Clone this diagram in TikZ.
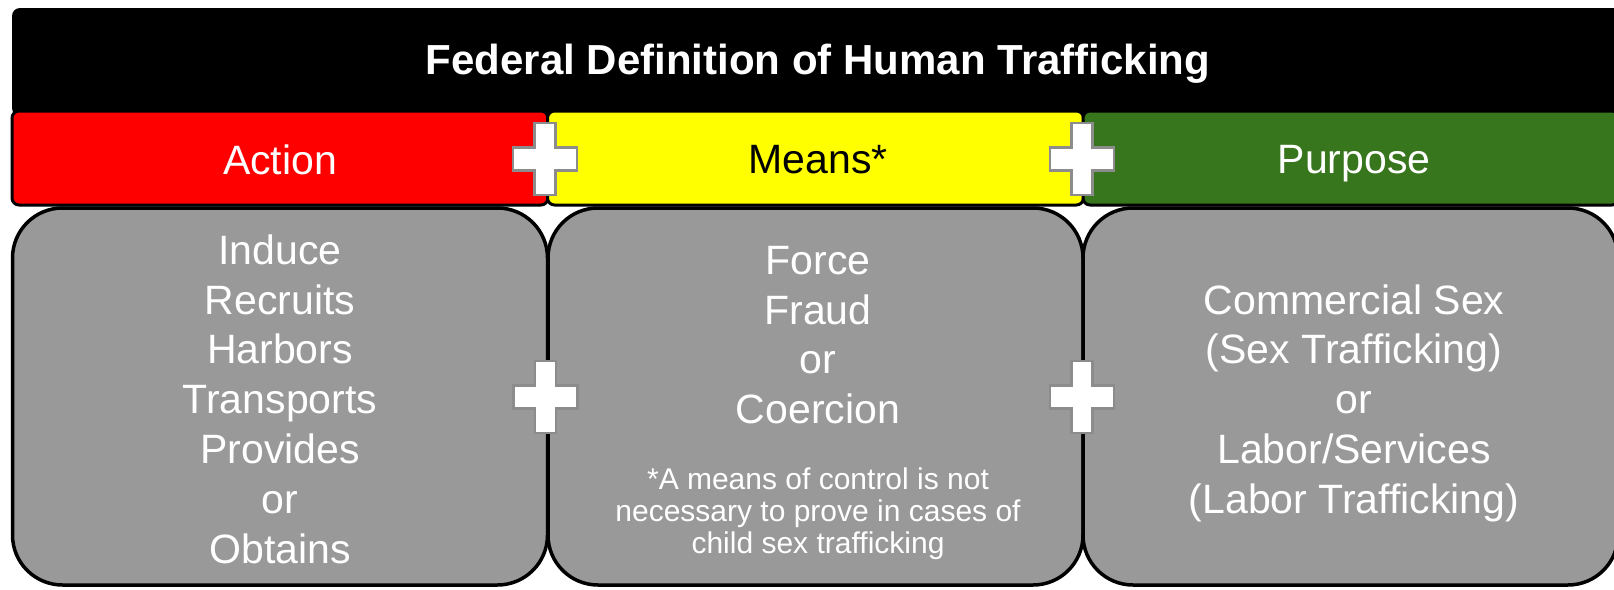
\documentclass[tikz,border=0pt]{standalone}
\usepackage{fontspec}
\setmainfont{Liberation Sans}
\definecolor{panelgray}{RGB}{153,153,153}
\definecolor{purposegreen}{RGB}{56,118,29}
\definecolor{crossedge}{RGB}{140,140,140}
\definecolor{headyellow}{RGB}{255,255,0}
\begin{document}
\begin{tikzpicture}[x=1pt,y=-1pt,
  titlebar/.style={fill=black, rounded corners=8pt, inner sep=0pt,
    minimum width=1613pt, minimum height=108pt},
  headbar/.style={draw=black, line width=3pt, rounded corners=7pt, inner sep=0pt,
    minimum width=536pt, minimum height=94pt},
  panel/.style={draw=black, line width=3.5pt, fill=panelgray, rounded corners=50pt,
    inner sep=0pt, minimum width=535pt, minimum height=377pt},
  headtext/.style={font=\fontsize{41}{48}\selectfont, inner sep=0pt},
  bodytext/.style={font=\fontsize{41}{49.8}\selectfont, text=white, align=center, inner sep=0pt},
  notetext/.style={font=\fontsize{30}{32}\selectfont, text=white, align=center, inner sep=0pt},
  crossmark/.pic={
    \draw[fill=white, draw=crossedge, line width=2.5pt]
      (-10.5,-36) -- (10.5,-36) -- (10.5,-11.5) -- (32,-11.5) -- (32,11.5)
      -- (10.5,11.5) -- (10.5,36) -- (-10.5,36) -- (-10.5,11.5) -- (-32,11.5)
      -- (-32,-11.5) -- (-10.5,-11.5) -- cycle;
  }]
\useasboundingbox (0,0) rectangle (1614,589);
\fill[white] (0,0) rectangle (1614,589);

% title band
\node[titlebar] (title) at (818.5,62) {};
\node[font=\fontsize{42}{48}\selectfont\bfseries, text=white, inner sep=0pt] (titletext) at (818,64)
  {Federal Definition of Human Trafficking};

% coloured headings
\node[headbar, fill=red] (actbar) at (280,158) {};
\node[headbar, fill=headyellow] (meansbar) at (815.5,158) {};
\node[headbar, fill=purposegreen] (purpbar) at (1351,158) {};
\node[headtext, text=white] (actlabel) at (280,160) {Action};
\node[headtext, text=black] (meanslabel) at (818,160) {Means*};
\node[headtext, text=white] (purplabel) at (1354,164) {Purpose};

% grey panels
\node[panel] (actbox) at (280,396.5) {};
\node[panel] (meansbox) at (815.5,396.5) {};
\node[panel] (purpbox) at (1350.5,396.5) {};

\node[bodytext] (acttext) at (280,399)
  {Induce\\Recruits\\Harbors\\Transports\\Provides\\or\\Obtains};
\node[bodytext] (meanstext) at (818,335)
  {Force\\Fraud\\or\\Coercion};
\node[notetext] (meansnote) at (818,514)
  {*A means of control is not\\necessary to prove in cases of\\child sex trafficking};
\node[bodytext] (purptext) at (1354,403)
  {Commercial Sex\\(Sex Trafficking)\\or\\Labor/Services\\(Labor Trafficking)};

% plus signs joining the columns
\pic at (545,159) {crossmark};
\pic at (1082,159) {crossmark};
\pic at (545.5,397) {crossmark};
\pic at (1082,397) {crossmark};
\end{tikzpicture}
\end{document}
